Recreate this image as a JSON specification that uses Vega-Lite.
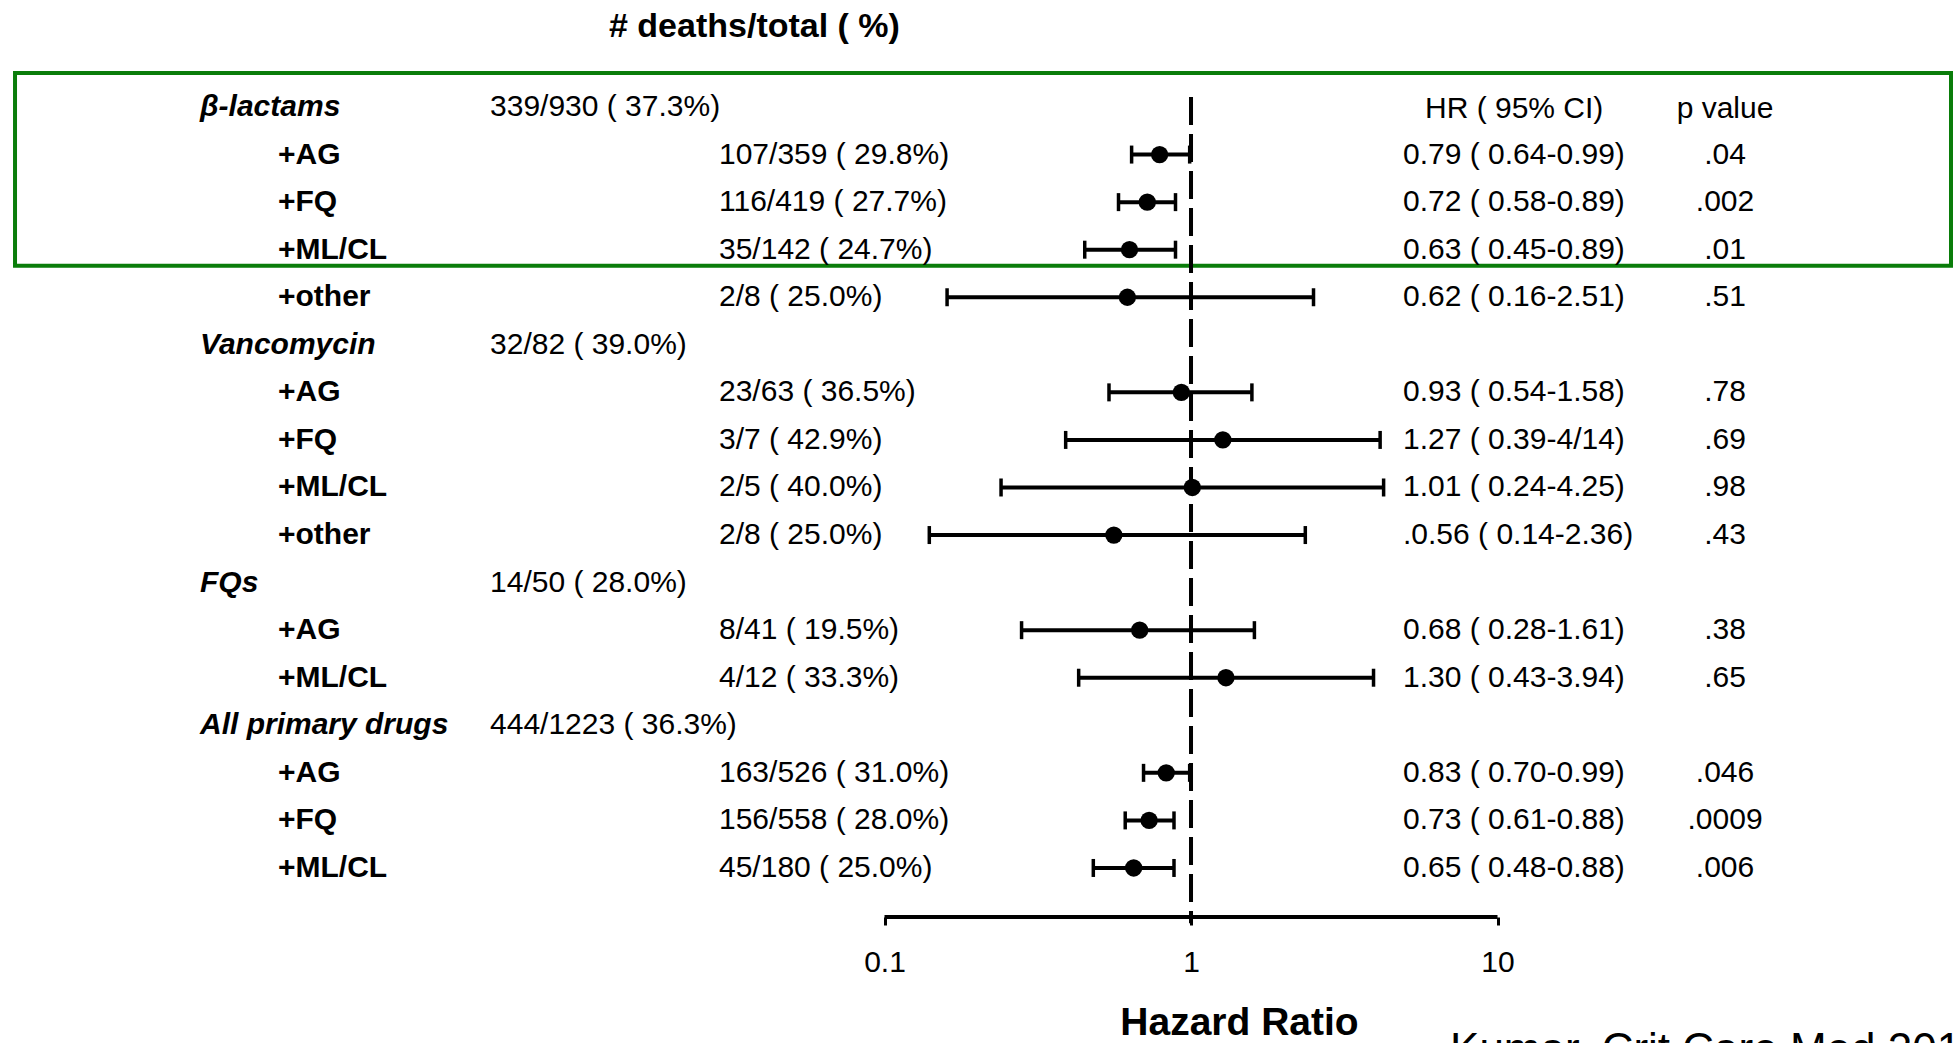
{
  "$schema": "https://vega.github.io/schema/vega-lite/v6.json",
  "width": 1955,
  "height": 917,
  "autosize": {"type": "none"},
  "padding": {"left": 0, "top": 0, "right": 0, "bottom": 126},
  "background": "white",
  "config": {
    "view": {"stroke": null},
    "text": {"font": "Liberation Sans", "fontSize": 30, "color": "black"}
  },
  "data": {
    "values": [
      {"row": 0, "label": "β-lactams", "kind": "group", "count": "339/930  ( 37.3%)"},
      {"row": 1, "label": "+AG", "kind": "sub", "count": "107/359  ( 29.8%)", "hr": 0.79, "lo": 0.64, "hi": 0.99, "hrtext": "0.79  ( 0.64-0.99)", "p": ".04"},
      {"row": 2, "label": "+FQ", "kind": "sub", "count": "116/419  ( 27.7%)", "hr": 0.72, "lo": 0.58, "hi": 0.89, "hrtext": "0.72  ( 0.58-0.89)", "p": ".002"},
      {"row": 3, "label": "+ML/CL", "kind": "sub", "count": "35/142  ( 24.7%)", "hr": 0.63, "lo": 0.45, "hi": 0.89, "hrtext": "0.63  ( 0.45-0.89)", "p": ".01"},
      {"row": 4, "label": "+other", "kind": "sub", "count": "2/8  ( 25.0%)", "hr": 0.62, "lo": 0.16, "hi": 2.51, "hrtext": "0.62  ( 0.16-2.51)", "p": ".51"},
      {"row": 5, "label": "Vancomycin", "kind": "group", "count": "32/82  ( 39.0%)"},
      {"row": 6, "label": "+AG", "kind": "sub", "count": "23/63  ( 36.5%)", "hr": 0.93, "lo": 0.54, "hi": 1.58, "hrtext": "0.93  ( 0.54-1.58)", "p": ".78"},
      {"row": 7, "label": "+FQ", "kind": "sub", "count": "3/7  ( 42.9%)", "hr": 1.27, "lo": 0.39, "hi": 4.14, "hrtext": "1.27  ( 0.39-4/14)", "p": ".69"},
      {"row": 8, "label": "+ML/CL", "kind": "sub", "count": "2/5  ( 40.0%)", "hr": 1.01, "lo": 0.24, "hi": 4.25, "hrtext": "1.01  ( 0.24-4.25)", "p": ".98"},
      {"row": 9, "label": "+other", "kind": "sub", "count": "2/8  ( 25.0%)", "hr": 0.56, "lo": 0.14, "hi": 2.36, "hrtext": ".0.56  ( 0.14-2.36)", "p": ".43"},
      {"row": 10, "label": "FQs", "kind": "group", "count": "14/50  ( 28.0%)"},
      {"row": 11, "label": "+AG", "kind": "sub", "count": "8/41  ( 19.5%)", "hr": 0.68, "lo": 0.28, "hi": 1.61, "hrtext": "0.68  ( 0.28-1.61)", "p": ".38"},
      {"row": 12, "label": "+ML/CL", "kind": "sub", "count": "4/12  ( 33.3%)", "hr": 1.30, "lo": 0.43, "hi": 3.94, "hrtext": "1.30  ( 0.43-3.94)", "p": ".65"},
      {"row": 13, "label": "All primary drugs", "kind": "group", "count": "444/1223  ( 36.3%)"},
      {"row": 14, "label": "+AG", "kind": "sub", "count": "163/526  ( 31.0%)", "hr": 0.83, "lo": 0.70, "hi": 0.99, "hrtext": "0.83  ( 0.70-0.99)", "p": ".046"},
      {"row": 15, "label": "+FQ", "kind": "sub", "count": "156/558  ( 28.0%)", "hr": 0.73, "lo": 0.61, "hi": 0.88, "hrtext": "0.73  ( 0.61-0.88)", "p": ".0009"},
      {"row": 16, "label": "+ML/CL", "kind": "sub", "count": "45/180  ( 25.0%)", "hr": 0.65, "lo": 0.48, "hi": 0.88, "hrtext": "0.65  ( 0.48-0.88)", "p": ".006"}
    ]
  },
  "layer": [
    {
      "transform": [{"filter": "datum.kind == 'sub'"}],
      "mark": {"type": "rule", "color": "black", "strokeWidth": 4},
      "encoding": {
        "x": {"field": "lo", "type": "quantitative", "scale": {"type": "log", "domain": [0.00013006, 310.9], "nice": false}, "axis": {"values": [0.1, 1, 10], "format": "~g", "domain": false, "grid": false, "ticks": true, "tickSize": 8, "tickWidth": 3, "tickColor": "black", "labelFont": "Liberation Sans", "labelFontSize": 30, "labelColor": "black", "labelPadding": 22, "labelFlush": false, "labelOverlap": false, "title": "Hazard Ratio", "titleFont": "Liberation Sans", "titleFontSize": 39, "titleFontWeight": "bold", "titleColor": "black", "titleX": 1239, "titleY": 117, "titleBaseline": "alphabetic", "titleAlign": "center"}},
        "x2": {"field": "hi"},
        "y": {"field": "row", "type": "quantitative", "scale": {"domain": [-2.25, 17.031], "reverse": true, "nice": false, "zero": false}, "axis": null}
      }
    },
    {
      "data": {"values": [{}]},
      "mark": {"type": "rect", "fill": "white", "fillOpacity": 0, "stroke": "#0a7d0a", "strokeWidth": 4},
      "encoding": {
        "x": {"datum": 0.0001456, "type": "quantitative", "scale": {"type": "log", "domain": [0.00013006, 310.9], "nice": false}, "axis": {"values": [0.1, 1, 10], "format": "~g", "domain": false, "grid": false, "ticks": true, "tickSize": 8, "tickWidth": 3, "tickColor": "black", "labelFont": "Liberation Sans", "labelFontSize": 30, "labelColor": "black", "labelPadding": 22, "labelFlush": false, "labelOverlap": false, "title": "Hazard Ratio", "titleFont": "Liberation Sans", "titleFontSize": 39, "titleFontWeight": "bold", "titleColor": "black", "titleX": 1239, "titleY": 117, "titleBaseline": "alphabetic", "titleAlign": "center"}},
        "x2": {"datum": 301.7},
        "y": {"datum": -0.715, "type": "quantitative", "scale": {"domain": [-2.25, 17.031], "reverse": true, "nice": false, "zero": false}, "axis": null},
        "y2": {"datum": 3.34}
      }
    },
    {
      "data": {"values": [{}]},
      "mark": {"type": "rule", "color": "black", "strokeWidth": 4, "strokeDash": [28, 9]},
      "encoding": {
        "x": {"datum": 1, "type": "quantitative", "scale": {"type": "log", "domain": [0.00013006, 310.9], "nice": false}, "axis": {"values": [0.1, 1, 10], "format": "~g", "domain": false, "grid": false, "ticks": true, "tickSize": 8, "tickWidth": 3, "tickColor": "black", "labelFont": "Liberation Sans", "labelFontSize": 30, "labelColor": "black", "labelPadding": 22, "labelFlush": false, "labelOverlap": false, "title": "Hazard Ratio", "titleFont": "Liberation Sans", "titleFontSize": 39, "titleFontWeight": "bold", "titleColor": "black", "titleX": 1239, "titleY": 117, "titleBaseline": "alphabetic", "titleAlign": "center"}},
        "y": {"datum": -0.21, "type": "quantitative", "scale": {"domain": [-2.25, 17.031], "reverse": true, "nice": false, "zero": false}, "axis": null},
        "y2": {"datum": 17.16}
      }
    },
    {
      "data": {"values": [{}]},
      "mark": {"type": "rule", "color": "black", "strokeWidth": 4},
      "encoding": {
        "x": {"datum": 0.1, "type": "quantitative", "scale": {"type": "log", "domain": [0.00013006, 310.9], "nice": false}, "axis": {"values": [0.1, 1, 10], "format": "~g", "domain": false, "grid": false, "ticks": true, "tickSize": 8, "tickWidth": 3, "tickColor": "black", "labelFont": "Liberation Sans", "labelFontSize": 30, "labelColor": "black", "labelPadding": 22, "labelFlush": false, "labelOverlap": false, "title": "Hazard Ratio", "titleFont": "Liberation Sans", "titleFontSize": 39, "titleFontWeight": "bold", "titleColor": "black", "titleX": 1239, "titleY": 117, "titleBaseline": "alphabetic", "titleAlign": "center"}},
        "x2": {"datum": 10},
        "y": {"datum": 17.031, "type": "quantitative", "scale": {"domain": [-2.25, 17.031], "reverse": true, "nice": false, "zero": false}, "axis": null}
      }
    },
    {
      "transform": [{"filter": "datum.kind == 'sub'"}],
      "mark": {"type": "rule", "color": "black", "strokeWidth": 3.5, "yOffset": -9, "y2Offset": 9},
      "encoding": {
        "x": {"field": "lo", "type": "quantitative", "scale": {"type": "log", "domain": [0.00013006, 310.9], "nice": false}, "axis": {"values": [0.1, 1, 10], "format": "~g", "domain": false, "grid": false, "ticks": true, "tickSize": 8, "tickWidth": 3, "tickColor": "black", "labelFont": "Liberation Sans", "labelFontSize": 30, "labelColor": "black", "labelPadding": 22, "labelFlush": false, "labelOverlap": false, "title": "Hazard Ratio", "titleFont": "Liberation Sans", "titleFontSize": 39, "titleFontWeight": "bold", "titleColor": "black", "titleX": 1239, "titleY": 117, "titleBaseline": "alphabetic", "titleAlign": "center"}},
        "y": {"field": "row", "type": "quantitative", "scale": {"domain": [-2.25, 17.031], "reverse": true, "nice": false, "zero": false}, "axis": null},
        "y2": {"field": "row"}
      }
    },
    {
      "transform": [{"filter": "datum.kind == 'sub'"}],
      "mark": {"type": "rule", "color": "black", "strokeWidth": 3.5, "yOffset": -9, "y2Offset": 9},
      "encoding": {
        "x": {"field": "hi", "type": "quantitative", "scale": {"type": "log", "domain": [0.00013006, 310.9], "nice": false}, "axis": {"values": [0.1, 1, 10], "format": "~g", "domain": false, "grid": false, "ticks": true, "tickSize": 8, "tickWidth": 3, "tickColor": "black", "labelFont": "Liberation Sans", "labelFontSize": 30, "labelColor": "black", "labelPadding": 22, "labelFlush": false, "labelOverlap": false, "title": "Hazard Ratio", "titleFont": "Liberation Sans", "titleFontSize": 39, "titleFontWeight": "bold", "titleColor": "black", "titleX": 1239, "titleY": 117, "titleBaseline": "alphabetic", "titleAlign": "center"}},
        "y": {"field": "row", "type": "quantitative", "scale": {"domain": [-2.25, 17.031], "reverse": true, "nice": false, "zero": false}, "axis": null},
        "y2": {"field": "row"}
      }
    },
    {
      "transform": [{"filter": "datum.kind == 'sub'"}],
      "mark": {"type": "point", "filled": true, "color": "black", "opacity": 1, "size": 300},
      "encoding": {
        "x": {"field": "hr", "type": "quantitative", "scale": {"type": "log", "domain": [0.00013006, 310.9], "nice": false}, "axis": {"values": [0.1, 1, 10], "format": "~g", "domain": false, "grid": false, "ticks": true, "tickSize": 8, "tickWidth": 3, "tickColor": "black", "labelFont": "Liberation Sans", "labelFontSize": 30, "labelColor": "black", "labelPadding": 22, "labelFlush": false, "labelOverlap": false, "title": "Hazard Ratio", "titleFont": "Liberation Sans", "titleFontSize": 39, "titleFontWeight": "bold", "titleColor": "black", "titleX": 1239, "titleY": 117, "titleBaseline": "alphabetic", "titleAlign": "center"}},
        "y": {"field": "row", "type": "quantitative", "scale": {"domain": [-2.25, 17.031], "reverse": true, "nice": false, "zero": false}, "axis": null}
      }
    },
    {
      "transform": [{"filter": "datum.kind == 'group'"}],
      "mark": {"type": "text", "align": "left", "baseline": "middle", "fontWeight": "bold", "fontStyle": "italic"},
      "encoding": {
        "x": {"datum": 0.0005843, "type": "quantitative", "scale": {"type": "log", "domain": [0.00013006, 310.9], "nice": false}, "axis": {"values": [0.1, 1, 10], "format": "~g", "domain": false, "grid": false, "ticks": true, "tickSize": 8, "tickWidth": 3, "tickColor": "black", "labelFont": "Liberation Sans", "labelFontSize": 30, "labelColor": "black", "labelPadding": 22, "labelFlush": false, "labelOverlap": false, "title": "Hazard Ratio", "titleFont": "Liberation Sans", "titleFontSize": 39, "titleFontWeight": "bold", "titleColor": "black", "titleX": 1239, "titleY": 117, "titleBaseline": "alphabetic", "titleAlign": "center"}},
        "y": {"field": "row", "type": "quantitative", "scale": {"domain": [-2.25, 17.031], "reverse": true, "nice": false, "zero": false}, "axis": null},
        "text": {"field": "label"}
      }
    },
    {
      "transform": [{"filter": "datum.kind == 'sub'"}],
      "mark": {"type": "text", "align": "left", "baseline": "middle", "fontWeight": "bold"},
      "encoding": {
        "x": {"datum": 0.00105, "type": "quantitative", "scale": {"type": "log", "domain": [0.00013006, 310.9], "nice": false}, "axis": {"values": [0.1, 1, 10], "format": "~g", "domain": false, "grid": false, "ticks": true, "tickSize": 8, "tickWidth": 3, "tickColor": "black", "labelFont": "Liberation Sans", "labelFontSize": 30, "labelColor": "black", "labelPadding": 22, "labelFlush": false, "labelOverlap": false, "title": "Hazard Ratio", "titleFont": "Liberation Sans", "titleFontSize": 39, "titleFontWeight": "bold", "titleColor": "black", "titleX": 1239, "titleY": 117, "titleBaseline": "alphabetic", "titleAlign": "center"}},
        "y": {"field": "row", "type": "quantitative", "scale": {"domain": [-2.25, 17.031], "reverse": true, "nice": false, "zero": false}, "axis": null},
        "text": {"field": "label"}
      }
    },
    {
      "transform": [{"filter": "datum.kind == 'group'"}],
      "mark": {"type": "text", "align": "left", "baseline": "middle"},
      "encoding": {
        "x": {"datum": 0.005163, "type": "quantitative", "scale": {"type": "log", "domain": [0.00013006, 310.9], "nice": false}, "axis": {"values": [0.1, 1, 10], "format": "~g", "domain": false, "grid": false, "ticks": true, "tickSize": 8, "tickWidth": 3, "tickColor": "black", "labelFont": "Liberation Sans", "labelFontSize": 30, "labelColor": "black", "labelPadding": 22, "labelFlush": false, "labelOverlap": false, "title": "Hazard Ratio", "titleFont": "Liberation Sans", "titleFontSize": 39, "titleFontWeight": "bold", "titleColor": "black", "titleX": 1239, "titleY": 117, "titleBaseline": "alphabetic", "titleAlign": "center"}},
        "y": {"field": "row", "type": "quantitative", "scale": {"domain": [-2.25, 17.031], "reverse": true, "nice": false, "zero": false}, "axis": null},
        "text": {"field": "count"}
      }
    },
    {
      "transform": [{"filter": "datum.kind == 'sub'"}],
      "mark": {"type": "text", "align": "left", "baseline": "middle"},
      "encoding": {
        "x": {"datum": 0.02884, "type": "quantitative", "scale": {"type": "log", "domain": [0.00013006, 310.9], "nice": false}, "axis": {"values": [0.1, 1, 10], "format": "~g", "domain": false, "grid": false, "ticks": true, "tickSize": 8, "tickWidth": 3, "tickColor": "black", "labelFont": "Liberation Sans", "labelFontSize": 30, "labelColor": "black", "labelPadding": 22, "labelFlush": false, "labelOverlap": false, "title": "Hazard Ratio", "titleFont": "Liberation Sans", "titleFontSize": 39, "titleFontWeight": "bold", "titleColor": "black", "titleX": 1239, "titleY": 117, "titleBaseline": "alphabetic", "titleAlign": "center"}},
        "y": {"field": "row", "type": "quantitative", "scale": {"domain": [-2.25, 17.031], "reverse": true, "nice": false, "zero": false}, "axis": null},
        "text": {"field": "count"}
      }
    },
    {
      "transform": [{"filter": "datum.kind == 'sub'"}],
      "mark": {"type": "text", "align": "left", "baseline": "middle"},
      "encoding": {
        "x": {"datum": 4.917, "type": "quantitative", "scale": {"type": "log", "domain": [0.00013006, 310.9], "nice": false}, "axis": {"values": [0.1, 1, 10], "format": "~g", "domain": false, "grid": false, "ticks": true, "tickSize": 8, "tickWidth": 3, "tickColor": "black", "labelFont": "Liberation Sans", "labelFontSize": 30, "labelColor": "black", "labelPadding": 22, "labelFlush": false, "labelOverlap": false, "title": "Hazard Ratio", "titleFont": "Liberation Sans", "titleFontSize": 39, "titleFontWeight": "bold", "titleColor": "black", "titleX": 1239, "titleY": 117, "titleBaseline": "alphabetic", "titleAlign": "center"}},
        "y": {"field": "row", "type": "quantitative", "scale": {"domain": [-2.25, 17.031], "reverse": true, "nice": false, "zero": false}, "axis": null},
        "text": {"field": "hrtext"}
      }
    },
    {
      "transform": [{"filter": "datum.kind == 'sub'"}],
      "mark": {"type": "text", "align": "center", "baseline": "middle"},
      "encoding": {
        "x": {"datum": 55.25, "type": "quantitative", "scale": {"type": "log", "domain": [0.00013006, 310.9], "nice": false}, "axis": {"values": [0.1, 1, 10], "format": "~g", "domain": false, "grid": false, "ticks": true, "tickSize": 8, "tickWidth": 3, "tickColor": "black", "labelFont": "Liberation Sans", "labelFontSize": 30, "labelColor": "black", "labelPadding": 22, "labelFlush": false, "labelOverlap": false, "title": "Hazard Ratio", "titleFont": "Liberation Sans", "titleFontSize": 39, "titleFontWeight": "bold", "titleColor": "black", "titleX": 1239, "titleY": 117, "titleBaseline": "alphabetic", "titleAlign": "center"}},
        "y": {"field": "row", "type": "quantitative", "scale": {"domain": [-2.25, 17.031], "reverse": true, "nice": false, "zero": false}, "axis": null},
        "text": {"field": "p"}
      }
    },
    {
      "data": {"values": [{}]},
      "mark": {"type": "text", "align": "left", "baseline": "middle", "text": "HR  ( 95% CI)"},
      "encoding": {
        "x": {"datum": 5.80, "type": "quantitative", "scale": {"type": "log", "domain": [0.00013006, 310.9], "nice": false}, "axis": {"values": [0.1, 1, 10], "format": "~g", "domain": false, "grid": false, "ticks": true, "tickSize": 8, "tickWidth": 3, "tickColor": "black", "labelFont": "Liberation Sans", "labelFontSize": 30, "labelColor": "black", "labelPadding": 22, "labelFlush": false, "labelOverlap": false, "title": "Hazard Ratio", "titleFont": "Liberation Sans", "titleFontSize": 39, "titleFontWeight": "bold", "titleColor": "black", "titleX": 1239, "titleY": 117, "titleBaseline": "alphabetic", "titleAlign": "center"}},
        "y": {"datum": 0.05, "type": "quantitative", "scale": {"domain": [-2.25, 17.031], "reverse": true, "nice": false, "zero": false}, "axis": null}
      }
    },
    {
      "data": {"values": [{}]},
      "mark": {"type": "text", "align": "center", "baseline": "middle", "text": "p value"},
      "encoding": {
        "x": {"datum": 55.25, "type": "quantitative", "scale": {"type": "log", "domain": [0.00013006, 310.9], "nice": false}, "axis": {"values": [0.1, 1, 10], "format": "~g", "domain": false, "grid": false, "ticks": true, "tickSize": 8, "tickWidth": 3, "tickColor": "black", "labelFont": "Liberation Sans", "labelFontSize": 30, "labelColor": "black", "labelPadding": 22, "labelFlush": false, "labelOverlap": false, "title": "Hazard Ratio", "titleFont": "Liberation Sans", "titleFontSize": 39, "titleFontWeight": "bold", "titleColor": "black", "titleX": 1239, "titleY": 117, "titleBaseline": "alphabetic", "titleAlign": "center"}},
        "y": {"datum": 0.05, "type": "quantitative", "scale": {"domain": [-2.25, 17.031], "reverse": true, "nice": false, "zero": false}, "axis": null}
      }
    },
    {
      "data": {"values": [{}]},
      "mark": {"type": "text", "align": "left", "baseline": "alphabetic", "fontWeight": "bold", "fontSize": 34, "text": "# deaths/total  ( %)"},
      "encoding": {
        "x": {"datum": 0.01262, "type": "quantitative", "scale": {"type": "log", "domain": [0.00013006, 310.9], "nice": false}, "axis": {"values": [0.1, 1, 10], "format": "~g", "domain": false, "grid": false, "ticks": true, "tickSize": 8, "tickWidth": 3, "tickColor": "black", "labelFont": "Liberation Sans", "labelFontSize": 30, "labelColor": "black", "labelPadding": 22, "labelFlush": false, "labelOverlap": false, "title": "Hazard Ratio", "titleFont": "Liberation Sans", "titleFontSize": 39, "titleFontWeight": "bold", "titleColor": "black", "titleX": 1239, "titleY": 117, "titleBaseline": "alphabetic", "titleAlign": "center"}},
        "y": {"datum": -1.472, "type": "quantitative", "scale": {"domain": [-2.25, 17.031], "reverse": true, "nice": false, "zero": false}, "axis": null}
      }
    },
    {
      "data": {"values": [{}]},
      "mark": {"type": "text", "align": "left", "baseline": "alphabetic", "fontSize": 44, "text": "Kumar, Crit Care Med 2010"},
      "encoding": {
        "x": {"datum": 7.0, "type": "quantitative", "scale": {"type": "log", "domain": [0.00013006, 310.9], "nice": false}, "axis": {"values": [0.1, 1, 10], "format": "~g", "domain": false, "grid": false, "ticks": true, "tickSize": 8, "tickWidth": 3, "tickColor": "black", "labelFont": "Liberation Sans", "labelFontSize": 30, "labelColor": "black", "labelPadding": 22, "labelFlush": false, "labelOverlap": false, "title": "Hazard Ratio", "titleFont": "Liberation Sans", "titleFontSize": 39, "titleFontWeight": "bold", "titleColor": "black", "titleX": 1239, "titleY": 117, "titleBaseline": "alphabetic", "titleAlign": "center"}},
        "y": {"datum": 20.12, "type": "quantitative", "scale": {"domain": [-2.25, 17.031], "reverse": true, "nice": false, "zero": false}, "axis": null}
      }
    }
  ]
}
